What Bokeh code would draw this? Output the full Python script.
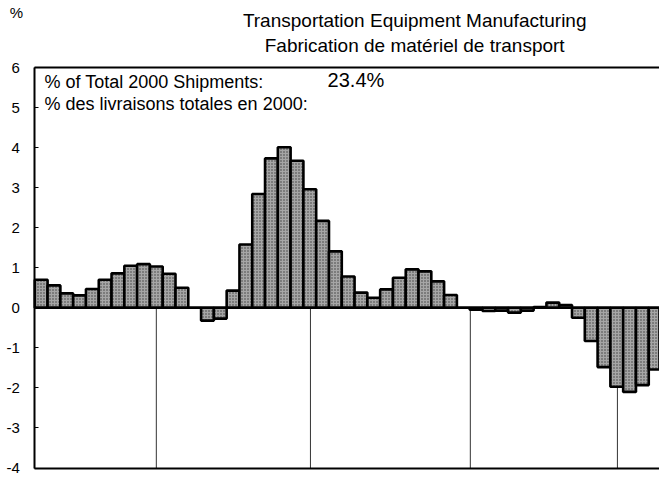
from bokeh.plotting import figure
from bokeh.models import Label, LinearAxis, FixedTicker, Range1d
from bokeh.embed import file_html
from bokeh.resources import INLINE

# ---- data ----
periods = list(range(1, 50))
changes = [0.70, 0.56, 0.36, 0.31, 0.47, 0.70, 0.86, 1.05, 1.09, 1.03,
           0.85, 0.50, 0.00, -0.32, -0.27, 0.43, 1.58, 2.84, 3.73, 4.01,
           3.67, 2.96, 2.17, 1.41, 0.78, 0.38, 0.25, 0.46, 0.75, 0.96,
           0.91, 0.66, 0.32, 0.00, -0.05, -0.08, -0.07, -0.12, -0.07, 0.02,
           0.13, 0.07, -0.25, -0.83, -1.48, -1.97, -2.10, -1.93, -1.54]
year_marks = [10.0, 22.05, 34.55, 46.05]
y_ticks = [-4, -3, -2, -1, 0, 1, 2, 3, 4, 5, 6]
y_tick_labels = {t: str(t) for t in y_ticks}
title_en = "Transportation Equipment Manufacturing"
title_fr = "Fabrication de matériel de transport"
share_en = "% of Total 2000 Shipments:"
share_fr = "% des livraisons totales en 2000:"
share_value = "23.4%"

FONT = "Liberation Sans"
X0, X1 = 0.5, 49.34      # plotted bar span
Y0, Y1 = -4, 6           # value axis span

p = figure(width=659, height=479, output_backend="svg", toolbar_location=None,
           x_range=Range1d(-2.182, 49.34), y_range=Range1d(-4.287, 7.673),
           min_border_left=0, min_border_right=0, min_border_top=0,
           min_border_bottom=0)
p.background_fill_color = "white"
p.border_fill_color = "white"
p.outline_line_color = None
p.xgrid.visible = False
p.ygrid.visible = False

# y axis drawn at the left edge of the bar area
p.yaxis.fixed_location = X0
p.yaxis.bounds = (Y0, Y1)
p.yaxis.ticker = FixedTicker(ticks=y_ticks)
p.yaxis.major_label_overrides = y_tick_labels
p.yaxis.axis_line_width = 2
p.yaxis.axis_line_color = "black"
p.yaxis.major_tick_in = 4
p.yaxis.major_tick_out = 0
p.yaxis.major_tick_line_width = 1
p.yaxis.minor_tick_line_color = None
p.yaxis.major_label_text_font = FONT
p.yaxis.major_label_text_font_size = "15px"
p.yaxis.major_label_text_color = "black"
p.yaxis.major_label_standoff = 15

# bottom border line
p.xaxis.fixed_location = Y0
p.xaxis.bounds = (X0, X1)
p.xaxis.ticker = FixedTicker(ticks=[])
p.xaxis.axis_line_width = 2
p.xaxis.axis_line_color = "black"
p.xaxis.major_tick_line_color = None
p.xaxis.minor_tick_line_color = None
p.xaxis.major_label_text_font_size = "0px"

# top border line
top_axis = LinearAxis(fixed_location=Y1, bounds=(X0, X1),
                      ticker=FixedTicker(ticks=[]), axis_line_width=2,
                      axis_line_color="black", major_tick_line_color=None,
                      minor_tick_line_color=None, major_label_text_font_size="0px")
p.add_layout(top_axis, "above")

# year separators
p.segment(x0=year_marks, x1=year_marks, y0=[0] * len(year_marks),
          y1=[Y0] * len(year_marks), line_color="#333333", line_width=1)

# bars
p.vbar(x=periods, top=changes, bottom=0, width=1.0,
       fill_color="#a6a6a6", line_color="black", line_width=2.6,
       hatch_pattern="dot", hatch_color="#3a3a3a", hatch_scale=3, hatch_weight=1)

p.segment(x0=[X0], x1=[X1], y0=[0], y1=[0], line_color="black", line_width=2.4)

# texts
def add_text(x, y, text, size, align="left"):
    p.add_layout(Label(x=x, y=y, text=text, text_align=align,
                       text_baseline="middle", text_font=FONT,
                       text_font_size=size, text_color="black"))

add_text(30.2, 7.17, title_en, "19px", "center")
add_text(30.2, 6.55, title_fr, "19px", "center")
add_text(-0.93, 7.37, "%", "15px", "center")
add_text(1.26, 5.63, share_en, "18px")
add_text(1.26, 5.10, share_fr, "18px")
add_text(23.39, 5.68, share_value, "20px")

open("out.html", "w").write(file_html(p, INLINE))
